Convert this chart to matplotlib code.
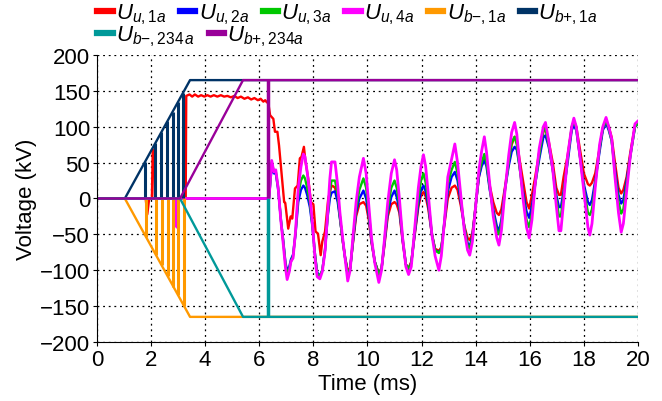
import numpy as np
import matplotlib.pyplot as plt

plt.rcParams['font.family'] = ['Liberation Sans', 'DejaVu Sans']
plt.rcParams['mathtext.fontset'] = 'custom'
plt.rcParams['mathtext.rm'] = 'Liberation Sans'
plt.rcParams['mathtext.it'] = 'Liberation Sans:italic'
plt.rcParams['font.size'] = 16

# --- data (time in ms, voltage in kV) ---

# common time base of the arm voltages after the bypass at ~6.35 ms
t_osc = [6.36, 6.46, 6.54, 6.61, 6.70, 6.80, 6.89, 6.97, 7.03, 7.11, 7.17, 7.25, 7.34,
         7.44, 7.54, 7.63, 7.69, 7.77, 7.87, 7.96, 8.06, 8.14, 8.24, 8.33, 8.43, 8.53,
         8.61, 8.67, 8.80, 8.90, 8.98, 9.07, 9.17, 9.27, 9.36, 9.47, 9.58, 9.70, 9.85,
         9.95, 10.05, 10.15, 10.27, 10.42, 10.52, 10.62, 10.75, 10.88, 11.00, 11.08, 11.18,
         11.30, 11.42, 11.52, 11.62, 11.75, 11.88, 11.98, 12.07, 12.15, 12.25, 12.38, 12.50,
         12.64, 12.73, 12.85, 12.97, 13.11, 13.23, 13.33, 13.45, 13.58, 13.70, 13.78, 13.88,
         14.00, 14.12, 14.22, 14.32, 14.40, 14.52, 14.65, 14.78, 14.86, 14.95, 15.08, 15.22,
         15.33, 15.44, 15.52, 15.62, 15.75, 15.88, 15.98, 16.08, 16.20, 16.35, 16.50, 16.58,
         16.70, 16.85, 16.98, 17.08, 17.15, 17.25, 17.40, 17.55, 17.63, 17.72, 17.85, 18.00,
         18.15, 18.22, 18.30, 18.42, 18.58, 18.70, 18.82, 18.92, 19.03, 19.15, 19.28, 19.38,
         19.46, 19.58, 19.72, 19.89, 20.00]

u4_osc = [0, 53, 37, 40, 14, -32, -65, -97, -113, -102, -88, -83, -46,
          14, 44, 62, 58, 37, 5, -32, -83, -109, -112, -102, -74, -19,
          28, 51, 51, 18, -19, -51, -83, -115, -100, -50, -5, 30, 56,
          35, -10, -55, -90, -117, -100, -60, -5, 35, 54, 40, 0,
          -55, -95, -106, -95, -40, 15, 45, 61, 45, 5, -50, -80,
          -100, -80, -30, 30, 55, 76, 50, 5, -45, -72, -79, -60,
          -10, 40, 66, 86, 65, 20, -25, -55, -65, -45, 9, 60,
          92, 106, 90, 50, 0, -40, -55, -30, 20, 70, 100, 106,
          80, 40, -10, -45, -45, -5, 60, 100, 112, 100, 60, 10,
          -40, -51, -35, 15, 75, 100, 113, 100, 83, 30, -20, -47,
          -35, 10, 60, 104, 108]

u3_osc = [0, 50, 38, 38, 15, -30, -62, -92, -105, -98, -88, -80, -48,
          5, 25, 32, 28, 15, -5, -35, -78, -105, -108, -100, -72, -22,
          10, 25, 25, 5, -25, -55, -82, -104, -98, -55, -15, 12, 28,
          15, -20, -58, -88, -106, -98, -62, -15, 15, 25, 15, -10,
          -55, -92, -98, -90, -45, 0, 25, 35, 22, -5, -48, -72,
          -76, -70, -30, 20, 40, 51, 35, 0, -40, -65, -70, -55,
          -10, 35, 50, 62, 50, 15, -20, -45, -50, -35, 10, 50,
          78, 86, 75, 45, 5, -30, -40, -20, 20, 60, 95, 97,
          75, 40, 0, -25, -25, 5, 55, 100, 108, 98, 60, 15,
          -20, -23, -15, 20, 70, 98, 108, 98, 80, 35, -5, -21,
          -15, 20, 60, 100, 104]

u2_osc = [0, 45, 35, 35, 12, -30, -60, -90, -100, -95, -85, -78, -50,
          -5, 12, 18, 15, 5, -12, -38, -78, -103, -108, -100, -72, -25,
          0, 8, 10, -5, -28, -55, -82, -104, -98, -58, -20, 0, 11,
          0, -25, -60, -88, -106, -98, -65, -20, 2, 11, 2, -15,
          -58, -92, -98, -90, -48, -8, 12, 18, 10, -10, -50, -72,
          -75, -70, -32, 10, 30, 37, 25, -5, -40, -62, -67, -52,
          -10, 30, 45, 53, 45, 12, -15, -38, -46, -30, 12, 45,
          65, 72, 68, 45, 10, -18, -27, -10, 20, 55, 85, 88,
          72, 40, 5, -12, -12, 10, 50, 95, 102, 95, 60, 20,
          -5, -9, -2, 25, 65, 95, 105, 95, 80, 40, 5, -7,
          -2, 25, 60, 100, 104]

# Uu,4a is held at zero before the bypass, apart from one short dip
t_u4_pre = [0.0, 2.92, 2.95, 2.98, 6.33]
u4_pre = [0, 0, -40, 0, 0]
t_u23_pre = [0.0, 6.33]
u23_pre = [0, 0]

# Uu,1a: start-up, charged plateau, first decaying cycles
t_u1_early = [0.0, 1.80, 1.86, 1.93, 2.03, 2.06, 2.12, 2.14, 3.28, 3.30, 3.42, 3.52, 3.62,
              3.74, 3.85, 3.97, 4.08, 4.20, 4.32, 4.45, 4.58, 4.70, 4.82, 4.95, 5.08, 5.20,
              5.32, 5.45, 5.58, 5.70, 5.82, 5.95, 6.05, 6.15, 6.22, 6.28, 6.33, 6.40, 6.52,
              6.58, 6.67, 6.73, 6.83, 6.92, 6.96, 7.07, 7.16, 7.22, 7.32, 7.42, 7.50, 7.56,
              7.65, 7.71, 7.81, 7.91, 8.00, 8.08, 8.17, 8.27, 8.33, 8.43, 8.55, 8.67, 8.73]
u1_early = [0, 0, -22, 0, 0, 68, 68, 0, 0, 143, 145, 142, 145,
            142, 144, 142, 144, 142, 144, 142, 144, 142, 143, 141, 143, 140,
            142, 139, 141, 138, 140, 137, 139, 135, 137, 134, 134, 116, 111,
            93, 93, 74, 32, -5, -6, -42, -25, -28, 14, 18, 56, 58,
            72, 51, 28, -5, -8, -46, -49, -79, -60, -46, 0, 18, 17]
# Uu,1a on the common time base from 8.80 ms on
u1_late = [15, 0, -25, -55, -82, -100, -97, -60, -25, -8, -5,
           -10, -30, -62, -88, -104, -97, -68, -25, -8, -5, -8, -20,
           -60, -92, -97, -88, -50, -12, 5, 9, 3, -15, -50, -70,
           -73, -68, -35, 0, 15, 18, 12, -10, -38, -55, -58, -48,
           -10, 30, 50, 58, 50, 18, -5, -20, -23, -15, 15, 50,
           75, 86, 80, 55, 25, -5, -14, 5, 30, 65, 92, 100,
           80, 50, 15, 5, 5, 30, 60, 98, 108, 100, 70, 35,
           20, 18, 22, 35, 70, 98, 110, 100, 85, 50, 15, 7,
           12, 30, 65, 102, 106]

# bypass switch voltages: linear ramps to +/-165 kV
t_ramp_1a = [0.0, 1.03, 3.44, 20.0]
ub_pos_1a = [0, 0, 165, 165]
ub_neg_1a = [0, 0, -165, -165]
t_ramp_234a = [0.0, 3.07, 5.40, 20.0]
ub_pos_234a = [0, 0, 165, 165]
ub_neg_234a = [0, 0, -165, -165]

# short switching pulses of the 1a bypass during the ramp
pulse_t_pos = [1.78, 2.15, 2.38, 2.60, 2.80, 2.99, 3.18]
pulse_v_pos = [51, 77, 92, 108, 121, 134, 147]
pulse_t_neg = [1.81, 2.18, 2.39, 2.61, 2.82, 3.00, 3.23]
pulse_v_neg = [-53, -79, -93, -108, -123, -135, -150]
t_bypass = 6.33

c_u1, c_u2, c_u3, c_u4 = '#ff0000', '#0000ff', '#00c800', '#ff00ff'
c_bn1, c_bp1, c_bn234, c_bp234 = '#ff9900', '#003366', '#009999', '#990099'

# --- plot ---
fig = plt.figure(figsize=(6.62, 4.02), dpi=100)
ax = fig.add_axes([0.1465, 0.1468, 0.8172, 0.7139])

i0 = t_osc.index(8.80)
t_u1 = t_u1_early + t_osc[i0:]
u1 = u1_early + u1_late

lw = 1.7
h1, = ax.plot(t_u1, u1, color=c_u1, lw=lw, label=r'$U_{u,1a}$')
h2, = ax.plot(t_u23_pre + t_osc, u23_pre + u2_osc, color=c_u2, lw=lw, label=r'$U_{u,2a}$')
h3, = ax.plot(t_u23_pre + t_osc, u23_pre + u3_osc, color=c_u3, lw=lw, label=r'$U_{u,3a}$')
h4, = ax.plot(t_u4_pre + t_osc, u4_pre + u4_osc, color=c_u4, lw=2.0, label=r'$U_{u,4a}$')

h5, = ax.plot(t_ramp_1a, ub_neg_1a, color=c_bn1, lw=lw, label=r'$U_{b{-},1a}$')
ax.vlines(pulse_t_neg, pulse_v_neg, 0, color=c_bn1, lw=2.2)
h6, = ax.plot(t_ramp_1a, ub_pos_1a, color=c_bp1, lw=lw, label=r'$U_{b{+},1a}$')
ax.vlines(pulse_t_pos, 0, pulse_v_pos, color=c_bp1, lw=2.2)

h7, = ax.plot(t_ramp_234a, ub_neg_234a, color=c_bn234, lw=lw, label=r'$U_{b{-},234\,a}$')
ax.vlines([t_bypass], ub_neg_234a[-1], 0, color=c_bn234, lw=2.5)
h8, = ax.plot(t_ramp_234a, ub_pos_234a, color=c_bp234, lw=lw, label=r'$U_{b{+},234a}$')
ax.vlines([t_bypass], 0, ub_pos_234a[-1], color=c_bp234, lw=2.5)

ax.set_xlim(0, 20)
ax.set_ylim(-200, 200)
ax.set_xticks(np.arange(0, 21, 2))
ax.set_yticks(np.arange(-200, 201, 50))
ax.set_xlabel('Time (ms)', labelpad=2)
ax.set_ylabel('Voltage (kV)', labelpad=2)
ax.tick_params(direction='out', length=3, width=0.8, pad=2)
ax.grid(True, color='k', lw=0.9, linestyle=(0, (1.5, 3)))
ax.spines['top'].set_visible(False)
ax.spines['right'].set_visible(False)

leg_kw = dict(frameon=False, handlelength=0.7, handletextpad=0.15, columnspacing=0.6,
              borderpad=0, borderaxespad=0, fontsize=16, loc='upper left')
leg1 = fig.legend(handles=[h1, h2, h3, h4, h5, h6], ncol=6,
                  bbox_to_anchor=(0.147, 0.993), **leg_kw)
leg2 = fig.legend(handles=[h7, h8], ncol=2,
                  bbox_to_anchor=(0.147, 0.938), **leg_kw)
for leg in (leg1, leg2):
    for line in leg.get_lines():
        line.set_linewidth(4.5)

fig.savefig('out.png', dpi=100)
